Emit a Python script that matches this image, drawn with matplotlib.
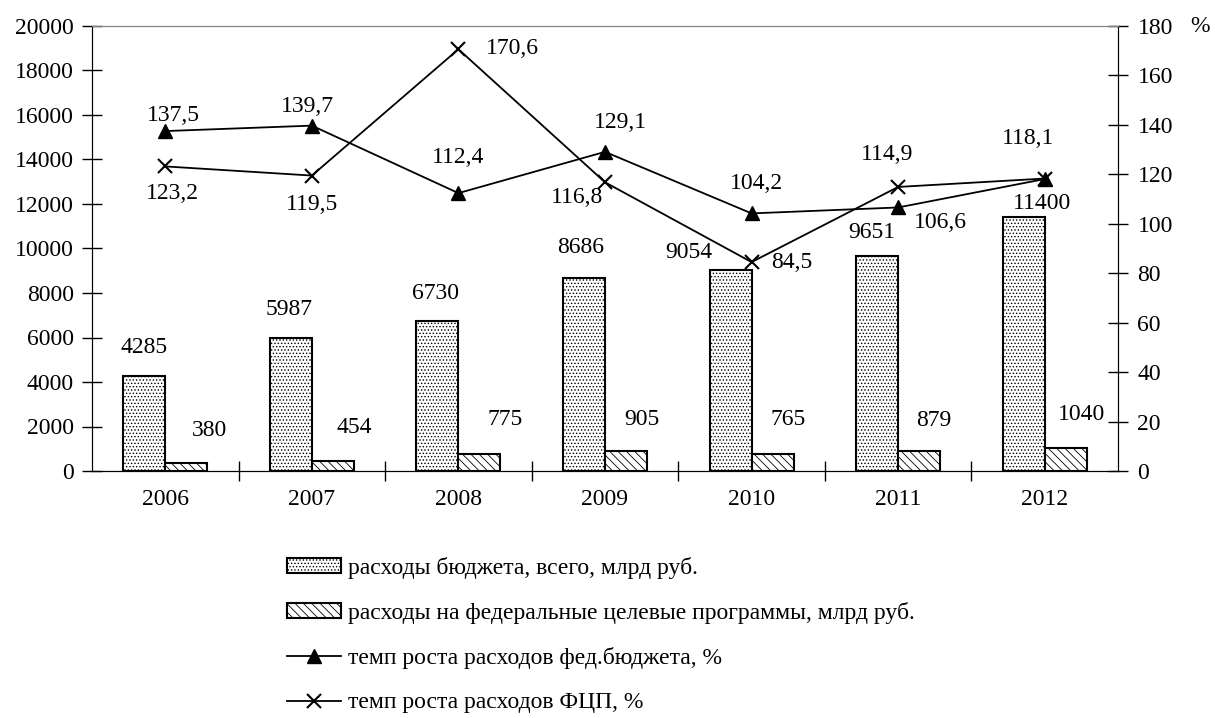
import matplotlib
matplotlib.use("Agg")
import matplotlib.pyplot as plt
from matplotlib.patches import Patch
from matplotlib.lines import Line2D
import numpy as np

plt.rcParams["font.family"] = ["Liberation Serif", "DejaVu Serif"]
plt.rcParams["hatch.linewidth"] = 0.6

years = ["2006", "2007", "2008", "2009", "2010", "2011", "2012"]
budget_total = [4285, 5987, 6730, 8686, 9054, 9651, 11400]
budget_fcp = [380, 454, 775, 905, 765, 879, 1040]
growth_budget = [137.5, 139.7, 112.4, 129.1, 104.2, 106.6, 118.1]
growth_fcp = [123.2, 119.5, 170.6, 116.8, 84.5, 114.9, 118.3]
growth_fcp_labels = ["123,2", "119,5", "170,6", "116,8", "84,5", "114,9", None]
growth_budget_labels = ["137,5", "139,7", "112,4", "129,1", "104,2", "106,6", "118,1"]

legend_labels = [
    "расходы бюджета, всего, млрд руб.",
    "расходы на федеральные целевые программы, млрд руб.",
    "темп роста расходов фед.бюджета, %",
    "темп роста расходов ФЦП, %",
]

# label offsets in pixels (placement only)
OFF_TOTAL = [(0, 28), (-2, 28), (-2, 28), (-3, 30), (-42, 17), (-5, 24), (18, 14)]
OFF_FCP = [(23, 32), (21, 33), (26, 34), (16, 31), (16, 34), (15, 31), (16, 33)]
OFF_GB = [(8, 16), (-4, 19), (0, 36), (15, 29), (5, 30), (42, -15), (-17, 41)]
OFF_GF = [(7, -27), (0, -29), (54, 1), (-28, -15), (40, 0), (-11, 32), (0, 0)]

FS = 17
W = 0.287

fig = plt.figure(figsize=(12.15, 7.18), dpi=100)
ax = fig.add_axes([92 / 1215, 1 - 471 / 718, (1118 - 92) / 1215, (471 - 26) / 718])
ax2 = ax.twinx()

x = np.arange(len(years))
b1 = ax.bar(x - W / 2, budget_total, W, facecolor="white", edgecolor="black",
            linewidth=1.5, hatch=".....", zorder=3)
b2 = ax.bar(x + W / 2, budget_fcp, W, facecolor="white", edgecolor="black",
            linewidth=1.5, hatch="\\\\\\\\", zorder=3)

for i in range(len(years)):
    ax.annotate(str(budget_total[i]), (x[i] - W / 2, budget_total[i]),
                xytext=OFF_TOTAL[i], textcoords="offset pixels",
                ha="center", va="center", fontsize=FS)
    ax.annotate(str(budget_fcp[i]), (x[i] + W / 2, budget_fcp[i]),
                xytext=OFF_FCP[i], textcoords="offset pixels",
                ha="center", va="center", fontsize=FS)

ax2.plot(x, growth_budget, color="black", linewidth=1.3, marker="^",
         markersize=10, zorder=5)
ax2.plot(x, growth_fcp, color="black", linewidth=1.3, marker="x",
         markersize=10, markeredgewidth=1.5, zorder=5)
for i in range(len(years)):
    ax2.annotate(growth_budget_labels[i], (x[i], growth_budget[i]),
                 xytext=OFF_GB[i], textcoords="offset pixels",
                 ha="center", va="center", fontsize=FS)
    if growth_fcp_labels[i]:
        ax2.annotate(growth_fcp_labels[i], (x[i], growth_fcp[i]),
                     xytext=OFF_GF[i], textcoords="offset pixels",
                     ha="center", va="center", fontsize=FS)

ax.set_xlim(-0.5, len(years) - 0.5)
ax.set_ylim(0, 20000)
ax2.set_ylim(0, 180)
ax.set_yticks(np.arange(0, 20001, 2000))
ax2.set_yticks(np.arange(0, 181, 20))

ax.set_xticks(np.arange(0.5, len(years) - 1, 1))
ax.set_xticklabels([])
ax.set_xticks(x, minor=True)
ax.set_xticklabels(years, minor=True)
ax.tick_params(axis="x", which="major", direction="inout", length=15, width=1)
ax.tick_params(axis="x", which="minor", length=0, pad=13, labelsize=FS)
ax.tick_params(axis="y", direction="inout", length=14, width=1, labelsize=FS, pad=6)
ax2.tick_params(axis="y", direction="inout", length=14, width=1, labelsize=FS, pad=7)

for a in (ax, ax2):
    a.spines["top"].set_color("#808080")
    a.spines["left"].set_color("black")
    a.spines["bottom"].set_color("black")
    a.spines["right"].set_color("black")

fig.text(1200 / 1215, 1 - 27 / 718, "%", ha="center", va="center", fontsize=FS)

handles = [
    Patch(facecolor="white", edgecolor="black", hatch=".....", linewidth=1.5),
    Patch(facecolor="white", edgecolor="black", hatch="\\\\\\\\", linewidth=1.5),
    Line2D([0], [0], color="black", linewidth=1.3, marker="^", markersize=10),
    Line2D([0], [0], color="black", linewidth=1.3, marker="x", markersize=10,
           markeredgewidth=1.5),
]
fig.legend(handles, legend_labels, loc="upper left",
           bbox_to_anchor=(287 / 1215, 1 - 557 / 718), frameon=False,
           fontsize=FS, handlelength=2.3, handleheight=0.6, handletextpad=0.3,
           labelspacing=0.98, borderpad=0, borderaxespad=0)

fig.savefig("out.png", dpi=100, facecolor="white")
